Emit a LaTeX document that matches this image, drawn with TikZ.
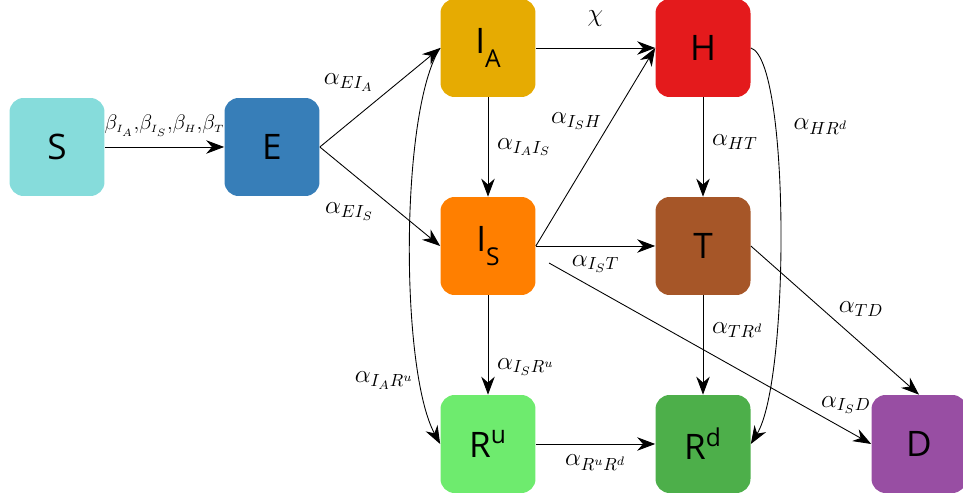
\documentclass[tikz,border=0pt]{standalone}
\usepackage{amsmath}
\usepackage{fontspec}
\usepackage{tikz}
\usetikzlibrary{arrows.meta,shapes}
\usetikzlibrary{positioning}
\newfontfamily\boxfont{Open Sans}
\definecolor{cS}{RGB}{134,220,219}
\definecolor{cE}{RGB}{55,126,184}
\definecolor{cIA}{RGB}{230,171,2}
\definecolor{cH}{RGB}{228,26,28}
\definecolor{cIS}{RGB}{255,127,0}
\definecolor{cT}{RGB}{166,86,40}
\definecolor{cRu}{RGB}{110,235,110}
\definecolor{cRd}{RGB}{77,175,74}
\definecolor{cD}{RGB}{152,78,163}
\tikzstyle{comp} = [rectangle, rounded corners=8pt, minimum width=1.9cm, minimum height=1.96cm, inner sep=0pt, text centered, font=\boxfont\fontsize{20}{22}\selectfont]
\tikzstyle{rate} = [font=\fontsize{14}{16}\selectfont, inner sep=2pt]
\tikzstyle{arrow} = [line width=0.5pt,->,>={Stealth[length=3.6mm,width=2.7mm]}]
\newcommand{\sub}[2]{#1\raisebox{-0.4em}{\fontsize{14}{14}\selectfont #2}}

\begin{document}
\begin{tikzpicture}[x=0.02cm,y=-0.02cm]
	\useasboundingbox (0,0) rectangle (963,499);
	% compartments
	\node [comp, fill=cS] (S) at (57,147) {S};
	\node [comp, fill=cE] (E) at (272,147) {E};
	\node [comp, fill=cIA] (IA) at (488,48) {\sub{I}{A}};
	\node [comp, fill=cH] (H) at (703,48) {H};
	\node [comp, fill=cIS] (IS) at (488,246) {\sub{I}{S}};
	\node [comp, fill=cT] (T) at (703,246) {T};
	\node [comp, fill=cRu] (Ru) at (488,444) {R\textsuperscript{u}};
	\node [comp, fill=cRd] (Rd) at (703,444) {R\textsuperscript{d}};
	\node [comp, fill=cD] (D) at (919,444) {D};
	\coordinate (ISd) at (549,263);
	% transitions
	\draw [arrow] (S) -- node[rate, font=\fontsize{12.5}{14}\selectfont, above=4pt] {$\beta_{\scriptscriptstyle I_A}{,}\beta_{\scriptscriptstyle I_S}{,}\beta_{\scriptscriptstyle H}{,}\beta_{\scriptscriptstyle T}$} (E);
	\draw [arrow] (E.east) -- node[rate, above left=2pt] {$\alpha_{EI_A}$} (IA.west);
	\draw [arrow] (E.east) -- node[rate, below left=2pt] {$\alpha_{EI_S}$} (IS.west);
	\draw [arrow] (IA) -- node[rate, right=3pt] {$\alpha_{I_AI_S}$} (IS);
	\draw [arrow] (IA) -- node[rate, above=10pt] {$\chi$} (H);
	\draw [arrow] (IS.east) -- node[rate, pos=0.63, left=3pt] {$\alpha_{I_SH}$} (H.west);
	\draw [arrow] (IS) -- node[rate, below=3pt] {$\alpha_{I_ST}$} (T);
	\draw [arrow] (ISd) -- node[rate, pos=0.84, above right=-2pt] {$\alpha_{I_SD}$} (D.west);
	\draw [arrow] (H) -- node[rate, right=3pt, pos=0.45] {$\alpha_{HT}$} (T);
	\draw [arrow] (T) -- node[rate, right=3pt, pos=0.35] {$\alpha_{TR^d}$} (Rd);
	\draw [arrow] (T.east) -- node[rate, above right=0pt] {$\alpha_{TD}$} (D.north);
	\draw [arrow] (H.east) .. controls (790,60) and (790,380) .. node[rate, pos=0.3, right=8pt] {$\alpha_{HR^d}$} (Rd.east);
	\draw [arrow] (IA.west) .. controls (400,110) and (400,370) .. node[rate, pos=0.8, left=2pt] {$\alpha_{I_AR^u}$} (Ru.west);
	\draw [arrow] (IS) -- node[rate, right=3pt, pos=0.72] {$\alpha_{I_SR^u}$} (Ru);
	\draw [arrow] (Ru) -- node[rate, below=4pt] {$\alpha_{R^uR^d}$} (Rd);
\end{tikzpicture}
\end{document}
